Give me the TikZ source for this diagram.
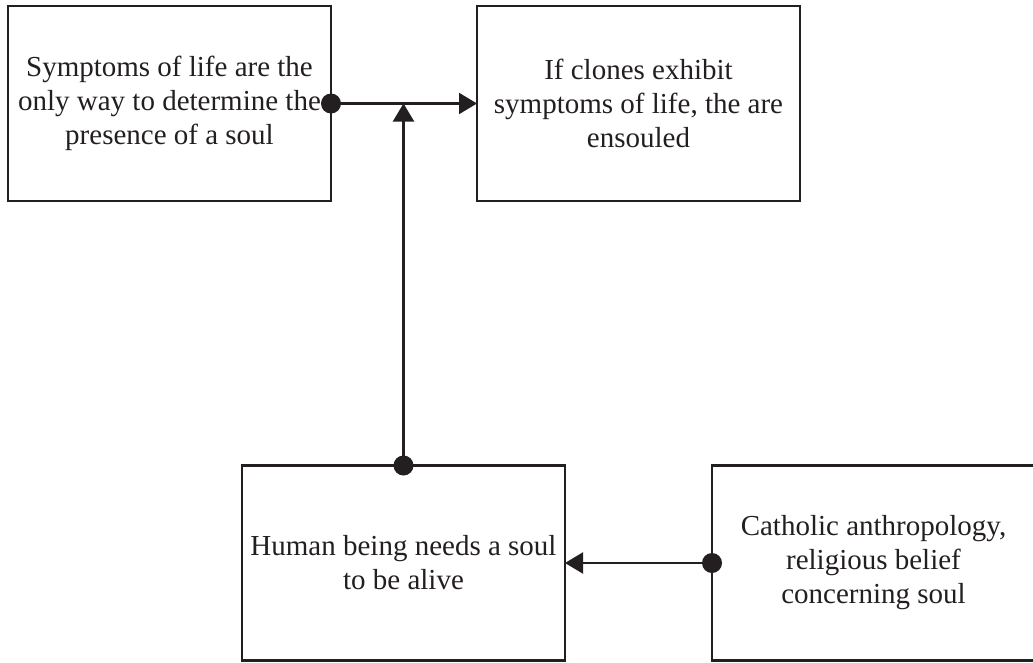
\documentclass[tikz,border=0pt]{standalone}
\usepackage{fontspec}
\setmainfont{Liberation Serif}
\usetikzlibrary{arrows.meta}
\definecolor{ink}{HTML}{231F20}
\begin{document}
\begin{tikzpicture}[x=1pt,y=-1pt,
  box/.style={draw=ink, line width=2.2pt, minimum width=323pt, minimum height=195pt,
    inner sep=0pt, outer sep=0pt, align=center, text=ink,
    font=\fontsize{29}{34}\selectfont},
  link/.style={draw=ink, line width=2.2pt},
  tip/.style={-{Triangle[length=18pt,width=21pt]}},
  dot/.style={circle, fill=ink, inner sep=0pt, minimum size=20pt}]
\useasboundingbox (0,0) rectangle (1033,662);
\clip (0,0) rectangle (1033,662);

% statements
\node[box] (a) at (169.5,103.5) {Symptoms of life are the\\only way to determine the\\presence of a soul};
\node[box] (b) at (638.5,103.5) {If clones exhibit\\symptoms of life, the are\\ensouled};
\node[box] (c) at (403.5,563) {Human being needs a soul\\to be alive};
\node[box] (d) at (873.5,563) {Catholic anthropology,\\religious belief\\concerning soul};

% junction on the upper connector
\coordinate (j) at (c.north |- a.east);

% connectors
\draw[link,tip] (a.east) -- (b.west);
\draw[link,tip] (c.north) -- (j);
\draw[link,tip] (d.west) -- (c.east);

% origin dots
\node[dot] (da) at (a.east) {};
\node[dot] (dc) at (c.north) {};
\node[dot] (dd) at (d.west) {};
\end{tikzpicture}
\end{document}
